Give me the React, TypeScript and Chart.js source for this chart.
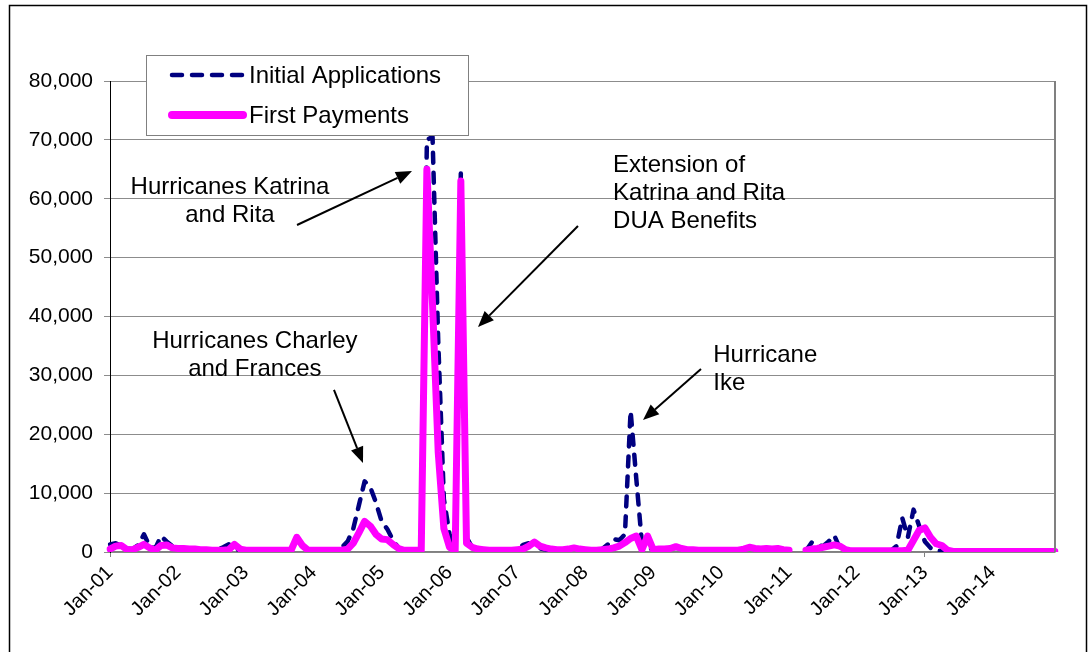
import React, { useEffect, useRef } from "react";
import { Chart, registerables } from "chart.js";

Chart.register(...registerables);

const MONTHS = ["Jan", "Feb", "Mar", "Apr", "May", "Jun", "Jul", "Aug", "Sep", "Oct", "Nov", "Dec"];
const YEARS = ["01", "02", "03", "04", "05", "06", "07", "08", "09", "10", "11", "12", "13", "14"];
const categories: string[] = YEARS.flatMap((y) => MONTHS.map((m) => `${m}-${y}`));

// Initial Applications, one row per year (Jan..Dec)
const initialApplications: (number | null)[] = [
  1300, 1500, 1000, 600, 500, 1200, 3000, 1000, 600, 2700, 1800, 1000,
  700, 600, 500, 400, 400, 300, 300, 400, 800, 1300, 500, 300,
  300, 300, 300, 200, 200, 200, 200, 200, 300, 2300, 900, 300,
  200, 200, 200, 200, 300, 800, 1800, 4000, 8000, 12000, 11000, 8400,
  5200, 3900, 2000, 700, 300, 300, 200, 300, 70000, 70500, 36000, 9000,
  3000, 800, 64500, 2500, 800, 500, 400, 300, 300, 300, 300, 300,
  400, 1200, 1500, 900, 600, 400, 400, 400, 400, 500, 900, 500,
  400, 300, 300, 500, 1300, 2200, 2000, 3000, 24000, 12500, 1500, 600,
  500, 400, 400, 500, 700, 500, 400, 400, 300, 300, 300, 300,
  300, 300, 300, 300, 400, 600, 500, 400, 500, 400, 500, 300,
  300, null, null, 200, 1600, 1200, 1000, 1800, 2800, 600, 200, 200,
  200, 200, 200, 200, 200, 200, 200, 1000, 5800, 2500, 7200, 4400,
  1800, 700, 200, 200, 200, 100, 100, 100, 100, 100, 100, 100,
  100, 100, 100, 100, 300, 100, 100, 100, 100, 100, 100, 100,
];

// First Payments, one row per year (Jan..Dec)
const firstPayments: (number | null)[] = [
  500, 1000, 1100, 400, 400, 800, 1300, 700, 300, 1100, 1200, 700,
  600, 600, 500, 500, 400, 400, 300, 300, 300, 400, 1300, 500,
  300, 300, 300, 300, 300, 300, 300, 300, 300, 2500, 1100, 300,
  300, 300, 300, 300, 300, 300, 500, 1500, 3300, 5200, 4400, 3000,
  2200, 2100, 1300, 600, 300, 300, 300, 300, 65000, 42000, 17000, 4000,
  800, 200, 63000, 1500, 800, 500, 400, 300, 300, 300, 300, 300,
  400, 500, 1000, 1700, 1000, 700, 500, 400, 400, 500, 700, 500,
  400, 300, 300, 400, 500, 700, 1000, 1600, 2300, 2700, 400, 2700,
  400, 500, 500, 600, 900, 600, 400, 400, 300, 300, 300, 300,
  300, 300, 300, 300, 500, 800, 600, 500, 600, 500, 600, 400,
  300, null, null, 300, 500, 600, 800, 1000, 1200, 1000, 400, 200,
  200, 200, 200, 200, 200, 200, 200, 200, 200, 300, 2000, 3700,
  4100, 2500, 1400, 1100, 300, 100, 100, 100, 100, 100, 100, 100,
  100, 100, 100, 100, 100, 100, 100, 100, 100, 100, 100, 100,
];

const seriesLabels = ["Initial Applications", "First Payments"];
const yTicks = [0, 10000, 20000, 30000, 40000, 50000, 60000, 70000, 80000];

// Annotation anchors in data coordinates: [month index, value]
const annotationTexts = [
  { lines: ["Hurricanes Katrina", "and Rita"], at: [21.2, 62000], align: "center" },
  { lines: ["Hurricanes Charley", "and Frances"], at: [25.6, 35840], align: "center" },
  { lines: ["Extension of", "Katrina and Rita", "DUA Benefits"], at: [88.9, 65730], align: "left" },
  { lines: ["Hurricane", "Ike"], at: [106.6, 33460], align: "left" },
];
const annotationArrows = [
  { from: [33.05, 55540], to: [53.37, 64710] },
  { from: [82.7, 55370], to: [65.03, 38220] },
  { from: [39.58, 27520], to: [44.71, 15120] },
  { from: [104.44, 31080], to: [94.19, 22420] },
];

const FONT = "'Liberation Sans', Arial, sans-serif";
const NAVY = "#000080";
const MAGENTA = "#FF00FF";

function drawArrow(ctx: CanvasRenderingContext2D, x1: number, y1: number, x2: number, y2: number) {
  const ang = Math.atan2(y2 - y1, x2 - x1);
  const hl = 16;
  const hw = 6.5;
  const bx = x2 - hl * Math.cos(ang);
  const by = y2 - hl * Math.sin(ang);
  ctx.beginPath();
  ctx.moveTo(x1, y1);
  ctx.lineTo(bx, by);
  ctx.stroke();
  ctx.beginPath();
  ctx.moveTo(x2, y2);
  ctx.lineTo(bx + hw * Math.sin(ang), by - hw * Math.cos(ang));
  ctx.lineTo(bx - hw * Math.sin(ang), by + hw * Math.cos(ang));
  ctx.closePath();
  ctx.fill();
}

const decorPlugin = {
  id: "decor",
  beforeDraw(chart: any) {
    const ctx: CanvasRenderingContext2D = chart.ctx;
    ctx.save();
    ctx.fillStyle = "#ffffff";
    ctx.fillRect(0, 0, chart.width, chart.height);
    ctx.strokeStyle = "#000000";
    ctx.lineWidth = 1.5;
    ctx.strokeRect(9.5, 5.5, 1077, 700);
    ctx.restore();
  },
  afterDraw(chart: any) {
    const ctx: CanvasRenderingContext2D = chart.ctx;
    const ca = chart.chartArea;
    const xs = chart.scales.x;
    const ys = chart.scales.y;
    ctx.save();
    // right plot border
    ctx.strokeStyle = "#808080";
    ctx.lineWidth = 2;
    ctx.beginPath();
    ctx.moveTo(ca.right, ca.top);
    ctx.lineTo(ca.right, ca.bottom);
    ctx.stroke();

    // legend
    const lx = ca.left + 36;
    const ly = ca.top - 26;
    const lw = 322;
    const lh = 80;
    ctx.fillStyle = "#ffffff";
    ctx.fillRect(lx, ly, lw, lh);
    ctx.strokeStyle = "#808080";
    ctx.lineWidth = 1;
    ctx.strokeRect(lx + 0.5, ly + 0.5, lw, lh);
    const ds = chart.data.datasets;
    const rows = [ly + 20, ly + 60];
    ctx.font = `24px ${FONT}`;
    ctx.textBaseline = "middle";
    ctx.textAlign = "left";
    ds.forEach((d: any, k: number) => {
      const yy = rows[k];
      ctx.save();
      ctx.strokeStyle = d.borderColor;
      ctx.lineCap = "round";
      if (d.borderDash && d.borderDash.length) {
        ctx.lineWidth = 4.5;
        ctx.setLineDash([10, 10]);
      } else {
        ctx.lineWidth = 8;
        ctx.setLineDash([]);
      }
      ctx.beginPath();
      ctx.moveTo(lx + 26, yy);
      ctx.lineTo(lx + 97, yy);
      ctx.stroke();
      ctx.restore();
      ctx.fillStyle = "#000000";
      ctx.fillText(d.label, lx + 103, yy + 1);
    });

    // annotations
    ctx.fillStyle = "#000000";
    ctx.font = `24px ${FONT}`;
    annotationTexts.forEach((a) => {
      const px = xs.getPixelForValue(a.at[0]);
      const py = ys.getPixelForValue(a.at[1]);
      ctx.textAlign = a.align as CanvasTextAlign;
      a.lines.forEach((t, k) => ctx.fillText(t, px, py + k * 28));
    });
    ctx.strokeStyle = "#000000";
    ctx.fillStyle = "#000000";
    ctx.lineWidth = 2;
    annotationArrows.forEach((a) => {
      drawArrow(
        ctx,
        xs.getPixelForValue(a.from[0]),
        ys.getPixelForValue(a.from[1]),
        xs.getPixelForValue(a.to[0]),
        ys.getPixelForValue(a.to[1])
      );
    });
    ctx.restore();
  },
};

export default function App() {
  const ref = useRef<HTMLCanvasElement | null>(null);
  useEffect(() => {
    if (!ref.current) return;
    const chart = new Chart(ref.current, {
      type: "line",
      data: {
        labels: categories,
        datasets: [
          {
            label: seriesLabels[0],
            data: initialApplications,
            borderColor: NAVY,
            backgroundColor: NAVY,
            borderWidth: 4.5,
            borderDash: [10, 10],
            borderCapStyle: "round",
            borderJoinStyle: "round",
            pointRadius: 0,
            tension: 0,
            spanGaps: false,
            order: 1,
          },
          {
            label: seriesLabels[1],
            data: firstPayments,
            borderColor: MAGENTA,
            backgroundColor: MAGENTA,
            borderWidth: 7,
            borderCapStyle: "round",
            borderJoinStyle: "round",
            pointRadius: 0,
            tension: 0,
            spanGaps: false,
            order: 0,
          },
        ],
      },
      options: {
        responsive: false,
        animation: false,
        devicePixelRatio: 1,
        layout: { padding: { left: 0, top: 81, right: 34, bottom: 0 } },
        plugins: { legend: { display: false }, tooltip: { enabled: false } },
        scales: {
          x: {
            type: "category",
            offset: false,
            afterFit: (s: any) => {
              s.height = 100;
            },
            grid: {
              drawOnChartArea: false,
              drawTicks: true,
              tickLength: 5,
              color: (c: any) =>
                categories[c.index] && categories[c.index].startsWith("Jan") ? "#808080" : "rgba(0,0,0,0)",
              lineWidth: 1,
            },
            border: { display: true, color: "#808080", width: 1.5 },
            ticks: {
              autoSkip: false,
              maxRotation: 45,
              minRotation: 45,
              padding: 4,
              color: "#000000",
              font: { family: FONT, size: 20 },
              callback: (_v: any, i: number) => (categories[i].startsWith("Jan") ? categories[i] : null),
            },
          },
          y: {
            min: yTicks[0],
            max: yTicks[yTicks.length - 1],
            afterFit: (s: any) => {
              s.width = 110;
            },
            afterBuildTicks: (s: any) => {
              s.ticks = yTicks.map((v) => ({ value: v }));
            },
            grid: { color: "#8c8c8c", lineWidth: 1, tickLength: 6, drawTicks: true },
            border: { display: true, color: "#000000", width: 1 },
            ticks: {
              padding: 11,
              color: "#000000",
              font: { family: FONT, size: 21 },
              callback: (v: any) => Number(v).toLocaleString("en-US"),
            },
          },
        },
      },
      plugins: [decorPlugin],
    });
    return () => chart.destroy();
  }, []);
  return (
    <canvas
      ref={ref}
      width={1089}
      height={652}
      style={{ position: "fixed", left: 0, top: 0, width: 1089, height: 652 }}
    />
  );
}
